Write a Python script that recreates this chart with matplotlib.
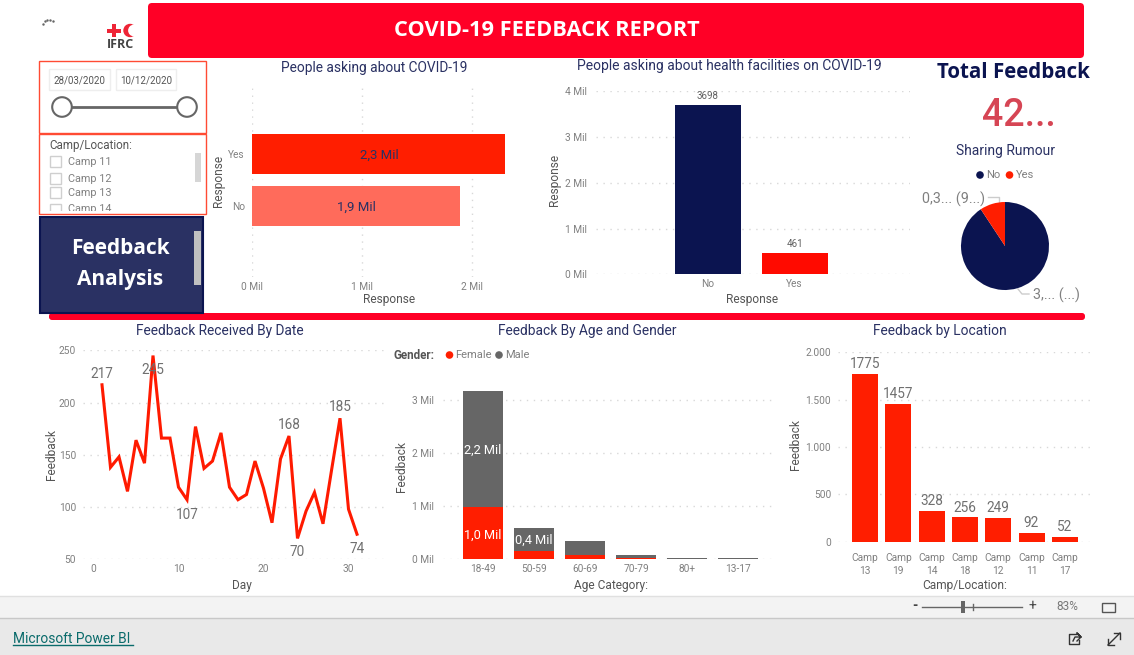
# Power BI feedback dashboard rebuilt with matplotlib
import matplotlib
matplotlib.use("Agg")
import matplotlib.pyplot as plt
import matplotlib.patches as mpatches

W, H = 1134, 655

# data
asking_labels = ["Yes", "No"]
asking_values = [2.31, 1.89]
asking_text = ["2,3 Mil", "1,9 Mil"]

health_labels = ["No", "Yes"]
health_values = [3.698, 0.461]
health_text = ["3698", "461"]

rumour_labels = ["No", "Yes"]
rumour_values = [3.81, 0.39]

days = list(range(1, 32))
day_feedback = [217, 138, 148, 115, 164, 142, 245, 166, 166, 119, 107, 177, 137, 144, 171, 119,
                107, 112, 144, 118, 85, 146, 168, 70, 96, 114, 84, 135, 185, 98, 74]
day_marks = {1: 11, 7: -14, 11: -15, 23: 11, 24: -14, 29: 11, 31: -15}

age_labels = ["18-49", "50-59", "60-69", "70-79", "80+", "13-17"]
age_female = [0.98, 0.16, 0.08, 0.03, 0.012, 0.012]
age_male = [2.20, 0.44, 0.265, 0.055, 0.012, 0.004]

camp_labels = ["Camp\n13", "Camp\n19", "Camp\n14", "Camp\n18", "Camp\n12", "Camp\n11", "Camp\n17"]
camp_values = [1775, 1457, 328, 256, 249, 92, 52]

slicer_camps = ["Camp 11", "Camp 12", "Camp 13", "Camp 14"]

RED = "#FF1E00"
BANNER = "#FF0026"
NAVY = "#0B1450"
TITLE = "#2A3163"
GREY = "#666666"
LABEL = "#555555"
TICK = "#808080"
FONT = "Roboto"
BOLD = "Open Sans"

plt.rcParams["font.family"] = FONT

fig = plt.figure(figsize=(W / 100, H / 100), dpi=100, facecolor="white")
bg = fig.add_axes([0, 0, 1, 1])
bg.set_xlim(0, W)
bg.set_ylim(H, 0)
bg.axis("off")


def px_axes(left, top, right, bottom, pad=3.5):
    ax = fig.add_axes([left / W, 1 - bottom / H, (right - left) / W, (bottom - top) / H])
    ax.patch.set_alpha(0)
    for s in ax.spines.values():
        s.set_visible(False)
    ax.tick_params(length=0, labelsize=7.3, labelcolor=TICK)
    ax.tick_params(axis="y", pad=pad)
    return ax


def rect(x0, y0, x1, y1, **kw):
    bg.add_patch(mpatches.Rectangle((x0, y0), x1 - x0, y1 - y0, **kw))


def rounded(x0, y0, x1, y1, r, color):
    bg.add_patch(mpatches.FancyBboxPatch((x0 + r, y0 + r), x1 - x0 - 2 * r, y1 - y0 - 2 * r,
                                         boxstyle=f"round,pad={r}", fc=color, ec="none"))


def txt(x, y, s, size=7.5, color=LABEL, ha="center", va="center", **kw):
    return bg.text(x, y, s, fontsize=size, color=color, ha=ha, va=va, **kw)


def dotted(ax, axis):
    ax.grid(True, axis=axis, color="#D8D8D8", linestyle=(0, (1, 4)), linewidth=1)
    ax.set_axisbelow(True)


# banners
rounded(148, 3, 1084, 58, 4, BANNER)
rounded(49, 313, 1085, 320, 3, BANNER)
txt(547, 31, "COVID-19 FEEDBACK REPORT", size=15.7, color="white", family=BOLD, weight="bold")

# logo and the loading dots
bg.plot([43, 45, 47, 50, 53], [24, 21, 20, 19.5, 20.5], ls="none", marker=".", ms=1.5, color="#666666")
rect(107, 28.5, 121, 32.5, fc="#EE2436", ec="none")
rect(112, 24, 116, 37, fc="#EE2436", ec="none")
bg.add_patch(mpatches.Circle((130, 30.5), 6.7, fc="#EE2436", ec="none"))
bg.add_patch(mpatches.Circle((134, 30.5), 5.9, fc="white", ec="none"))
txt(120.5, 45, "IFRC", size=9, color="#444444", family=BOLD, weight="bold")

# date slicer
rect(38.5, 60.5, 205.5, 132.5, fc="white", ec="#FF4B33", lw=1)
for x0, x1, d in [(49, 110, "28/03/2020"), (116, 176, "10/12/2020")]:
    rect(x0, 69, x1, 90, fc="white", ec="#EEEEEE", lw=1)
    txt((x0 + x1) / 2, 81, d, size=7, color="#555555")
bg.plot([62, 187], [107, 107], color=GREY, lw=2, zorder=3)
for x in [62, 187]:
    bg.add_patch(mpatches.Circle((x, 107), 9.8, fc="white", ec=GREY, lw=1.5, zorder=4))

# camp slicer
txt(49, 146, "Camp/Location:", size=8.4, color="#555555", ha="left")
for y, c in zip([161.5, 178, 192.5, 209], slicer_camps):
    rect(49.5, y - 5.5, 60.5, y + 5.5, fc="white", ec="#CFCFCF", lw=1)
    txt(67.5, y + 0.5, c, size=7.8, color="#808080", ha="left")
rect(39, 211, 205, 216, fc="white", ec="none", zorder=5)
rect(195, 153, 201, 182, fc="#D6D6D6", ec="none")
rect(38.5, 133.5, 205.5, 213.5, fc="none", ec="#FF4B33", lw=1, zorder=6)

# navigation tile
rect(40, 217, 203, 313, fc="#2A3163", ec=NAVY, lw=1.5)
rect(194, 231, 201, 285, fc="#C0C0C0", ec="none")
txt(120, 249, "Feedback", size=15, color="white", family=BOLD, weight="bold")
txt(120, 279, "Analysis", size=15, color="white", family=BOLD, weight="bold")

# People asking about COVID-19
txt(374, 68, "People asking about COVID-19", size=9.9, color=TITLE)
ax = px_axes(252, 87, 505, 277, pad=5)
ax.barh(range(2), asking_values, height=40 / 52, color=[RED, "#FF6B5B"])
ax.set_xlim(0, 253 / 110)
ax.set_ylim(125 / 52 - 0.04, -67 / 52)
ax.set_yticks(range(2), asking_labels)
ax.set_xticks([0, 1, 2], ["0 Mil", "1 Mil", "2 Mil"])
dotted(ax, "x")
for i, (v, s) in enumerate(zip(asking_values, asking_text)):
    ax.text(v / 2, i, s, ha="center", va="center_baseline", fontsize=9.5, color=TITLE, clip_on=False)
txt(389, 300, "Response", size=8.6)
txt(218, 181, "Response", size=8.6, rotation=90)

# People asking about health facilities
txt(729, 66, "People asking about health facilities on COVID-19", size=10, color=TITLE)
ax = px_axes(596, 91.3, 910, 274.3, pad=6.5)
bars = ax.bar(range(2), health_values, width=66 / 87.2, color=[NAVY, "#FF0A00"])
ax.set_xlim(-111.5 / 87.2, 202.5 / 87.2)
ax.set_ylim(0, 4)
ax.set_xticks(range(2), health_labels)
ax.set_yticks(range(5), [f"{v} Mil" for v in range(5)])
dotted(ax, "y")
ax.bar_label(bars, labels=health_text, fontsize=7, color="#606060", padding=3)
txt(752, 300, "Response", size=8.6)
txt(555, 180, "Response", size=8.6, rotation=90)

# Total feedback and rumour pie
txt(1013, 72.5, "Total Feedback", size=14.8, color=NAVY, family=BOLD, weight="bold")
txt(1019, 115, "42...", size=27, color="#D64554", weight="medium")
txt(1005, 150.5, "Sharing Rumour", size=10, color=TITLE)
for x, c, s in [(980, NAVY, rumour_labels[0]), (1009.5, RED, rumour_labels[1])]:
    bg.add_patch(mpatches.Circle((x, 175), 3.8, fc=c, ec="none"))
    txt(x + 6, 175.5, s, size=8, color="#808080", ha="left")
ax = px_axes(961, 202, 1049, 290)
ax.pie(rumour_values, colors=[NAVY, RED], startangle=90, counterclock=False, radius=1)
ax.set_xlim(-1, 1)
ax.set_ylim(-1, 1)
bg.plot([988, 999, 999], [197, 197, 203], color="#CCCCCC", lw=1)
bg.plot([1018, 1022, 1029], [289, 294, 294], color="#CCCCCC", lw=1)
txt(985, 199.5, "0,3... (9...)", size=10.4, color="#808080", ha="right")
txt(1033, 295.5, "3,... (...)", size=10.4, color="#808080", ha="left")

# Feedback received by date
txt(220, 330.5, "Feedback Received By Date", size=9.9, color=TITLE)
ax = px_axes(83, 350.3, 389, 559.3, pad=5)
ax.plot(days, day_feedback, color="#FF1A00", lw=2.2, solid_joinstyle="miter")
ax.set_xlim(-10.5 / 8.5, 295.5 / 8.5)
ax.set_ylim(50, 250)
ax.set_xticks([0, 10, 20, 30])
ax.set_yticks([50, 100, 150, 200, 250])
dotted(ax, "y")
for d, off in day_marks.items():
    ax.annotate(str(day_feedback[d - 1]), (d, day_feedback[d - 1]), xytext=(0, off),
                textcoords="offset pixels", ha="center", va="center", fontsize=9.8, color="#707070")
txt(242, 585, "Day", size=8.6)
txt(51, 454, "Feedback", size=8.6, rotation=90)

# Feedback by age and gender
txt(587, 330.5, "Feedback By Age and Gender", size=9.9, color=TITLE)
txt(394, 355.5, "Gender:", size=8.4, color="#555555", ha="left", weight="bold")
for x, c, s in [(449.5, RED, "Female"), (499, GREY, "Male")]:
    bg.add_patch(mpatches.Circle((x, 355), 3.8, fc=c, ec="none"))
    txt(x + 6, 355.5, s, size=8, color="#808080", ha="left")
ax = px_axes(443, 380, 775, 559.3, pad=6.5)
ax.bar(range(6), age_female, width=40 / 51, color=RED)
ax.bar(range(6), age_male, width=40 / 51, bottom=age_female, color=GREY)
ax.set_xlim(-40 / 51, 292 / 51)
ax.set_ylim(0, 179.3 / 53)
ax.set_xticks(range(6), age_labels)
ax.set_yticks(range(4), [f"{v} Mil" for v in range(4)])
dotted(ax, "y")
ax.text(0, age_female[0] / 2, "1,0 Mil", color="white", ha="center", va="center_baseline", fontsize=9.2)
ax.text(0, age_female[0] + age_male[0] / 2, "2,2 Mil", color="white", ha="center", va="center_baseline", fontsize=9.2)
ax.text(1, age_female[1] + age_male[1] / 2, "0,4 Mil", color="white", ha="center", va="center_baseline", fontsize=9.2)
txt(611, 585, "Age Category:", size=8.6)
txt(402, 466, "Feedback", size=8.6, rotation=90)

# Feedback by location
txt(940, 330.5, "Feedback by Location", size=9.9, color=TITLE)
ax = px_axes(838, 352.3, 1092, 541.7, pad=5)
bars = ax.bar(range(7), camp_values, width=26 / 33.3, color=RED)
ax.set_xlim(-27 / 33.3, 227 / 33.3)
ax.set_ylim(0, 2000)
ax.set_xticks(range(7), camp_labels)
ax.tick_params(axis="x", pad=8)
for t in ax.get_xticklabels():
    t.set_linespacing(1.45)
ax.set_yticks([0, 500, 1000, 1500, 2000], ["0", "500", "1.000", "1.500", "2.000"])
dotted(ax, "y")
ax.bar_label(bars, labels=[str(v) for v in camp_values], fontsize=9.8, color="#707070", padding=2)
txt(965, 585, "Camp/Location:", size=8.6)
txt(796, 445, "Feedback", size=8.6, rotation=90)

# Power BI footer
rect(0, 596, W, 618, fc="#F3F3F3", ec="none")
rect(0, 618, W, H, fc="#E9E9E9", ec="none")
bg.plot([0, W], [595.5, 595.5], color="#E0E0E0", lw=1)
bg.plot([0, W], [618, 618], color="#C8C8C8", lw=1)
txt(915, 606, "-", size=10, color="#444444", weight="bold")
bg.plot([922, 1022], [607, 607], color=GREY, lw=1)
bg.plot([972.5, 972.5], [604, 610], color=GREY, lw=1)
rect(961, 601, 965, 612.5, fc=GREY, ec="none")
txt(1032, 606.5, "+", size=10, color="#444444")
txt(1067, 607, "83%", size=8.5, color="#777777")
rect(1101.5, 603, 1114.5, 612, fc="none", ec="#555555", lw=1)
txt(13, 639, "Microsoft Power BI", size=9.9, color="#0A6B6B", ha="left")
bg.plot([13, 133], [645, 645], color="#0A6B6B", lw=1)
# share icon
bg.plot([1077, 1069, 1069, 1079, 1079], [634, 634, 644, 644, 640], color="#333333", lw=1)
bg.plot([1073, 1075, 1081, 1077, 1081, 1077], [641, 637, 637, 633, 637, 641], color="#333333", lw=1)
# expand icon
bg.plot([1108, 1120], [645, 633], color="#333333", lw=1)
bg.plot([1114, 1120, 1120], [633, 633, 639], color="#333333", lw=1)
bg.plot([1108, 1108, 1114], [639, 645, 645], color="#333333", lw=1)

fig.savefig("out.png", dpi=100)
